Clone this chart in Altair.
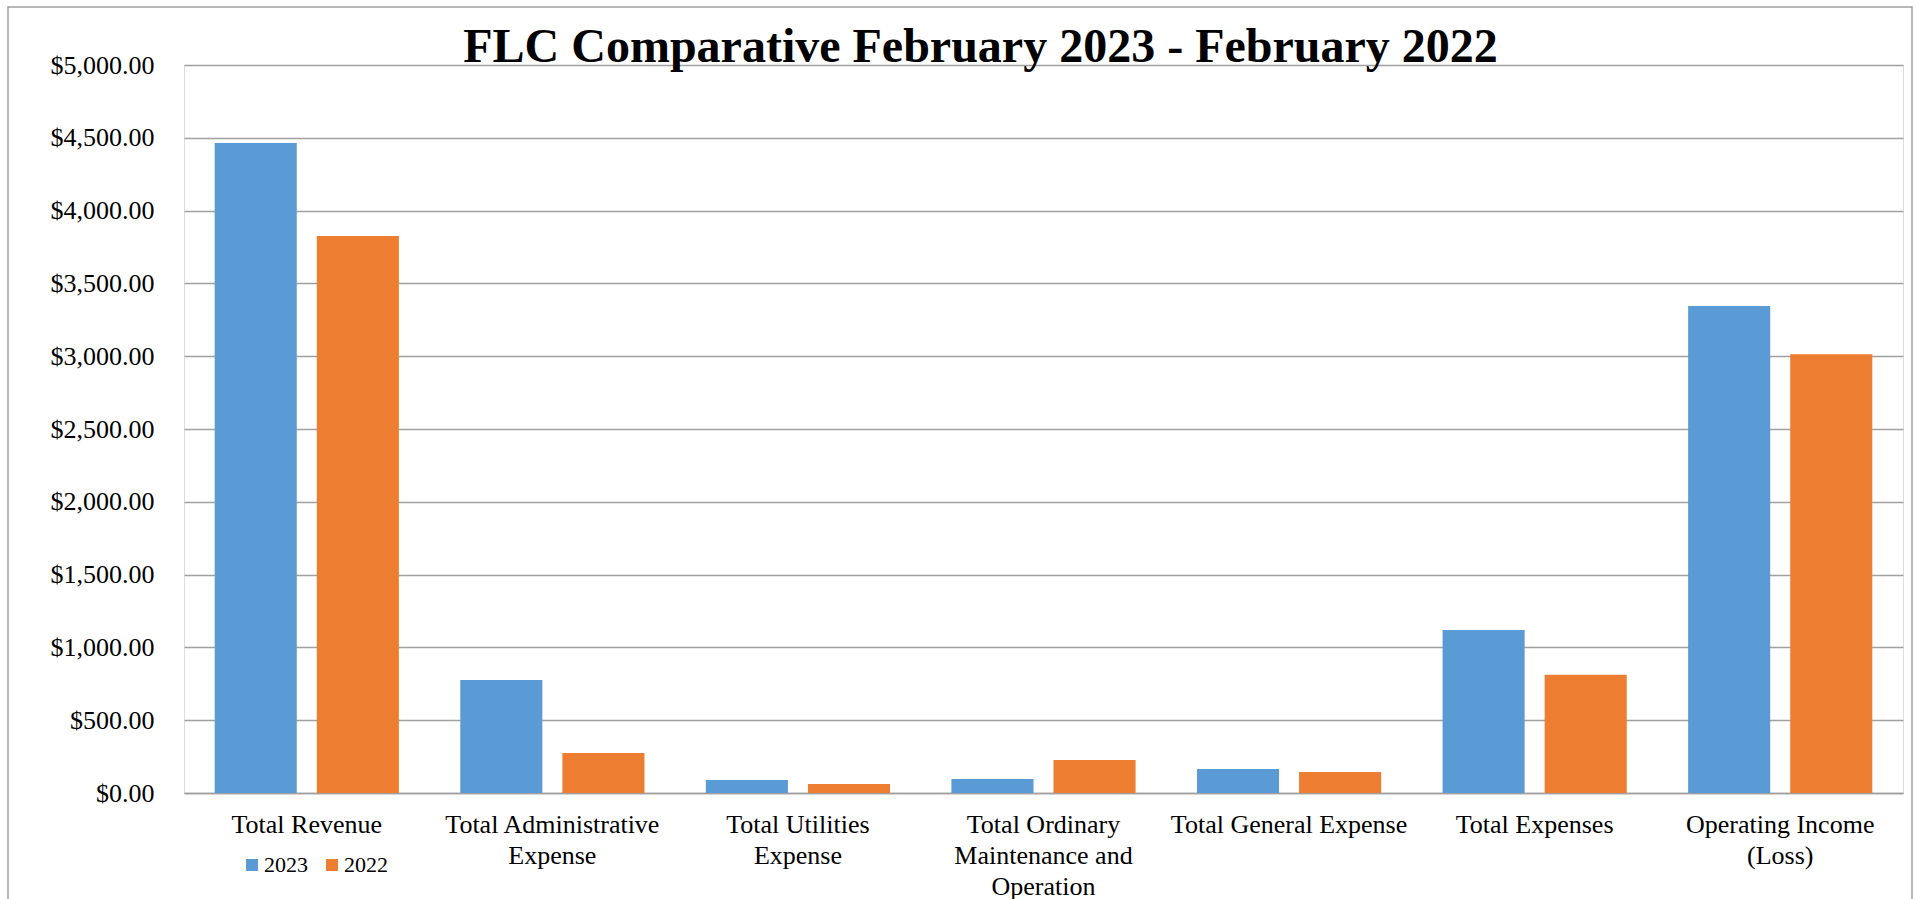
import altair as alt
import pandas as pd

title_text = "FLC Comparative February 2023 - February 2022"
categories = [
    "Total Revenue",
    "Total Administrative\nExpense",
    "Total Utilities\nExpense",
    "Total Ordinary\nMaintenance and\nOperation",
    "Total General Expense",
    "Total Expenses",
    "Operating Income\n(Loss)",
]
years = ["2023", "2022"]
values_2023 = [4464, 776, 89, 96, 165, 1119, 3345]
values_2022 = [3825, 275, 62, 227, 144, 812, 3013]
y_ticks = [0, 500, 1000, 1500, 2000, 2500, 3000, 3500, 4000, 4500, 5000]
colors = ["#5B9BD5", "#ED7D31"]

rows = []
for c, a, b in zip(categories, values_2023, values_2022):
    rows.append({"category": c, "year": "2023", "value": a})
    rows.append({"category": c, "year": "2022", "value": b})
df = pd.DataFrame(rows)

FONT = "Liberation Serif"
GRID = "#A0A0A0"

bars = alt.Chart(df).mark_bar().encode(
    x=alt.X(
        "category:N",
        sort=categories,
        scale=alt.Scale(paddingInner=0.25, paddingOuter=0.125),
        axis=alt.Axis(
            title=None,
            labelAngle=0,
            labelExpr="split(datum.label, '\\n')",
            labelFont=FONT,
            labelFontSize=26,
            labelColor="#000000",
            labelLineHeight=31,
            labelPadding=18,
            labelBaseline="top",
            labelLimit=0,
            ticks=False,
            domainColor=GRID,
            domainWidth=1.5,
            grid=False,
        ),
    ),
    xOffset=alt.XOffset("year:N", sort=years, scale=alt.Scale(domain=years, paddingInner=0.196, paddingOuter=0)),
    y=alt.Y(
        "value:Q",
        scale=alt.Scale(domain=[0, 5000], nice=False),
        axis=alt.Axis(
            title=None,
            values=y_ticks,
            format="$,.2f",
            labelFont=FONT,
            labelFontSize=26,
            labelColor="#000000",
            labelPadding=30,
            ticks=False,
            domain=False,
            gridColor=GRID,
            gridWidth=1.5,
        ),
    ),
    color=alt.Color(
        "year:N",
        sort=years,
        scale=alt.Scale(domain=years, range=colors),
        legend=alt.Legend(
            title=None,
            orient="none",
            legendX=57,
            legendY=789,
            direction="horizontal",
            symbolType="square",
            symbolSize=144,
            symbolStrokeWidth=0,
            labelFont=FONT,
            labelFontSize=22,
            labelColor="#000000",
            labelOffset=1,
            columnPadding=13,
        ),
    ),
)

one = pd.DataFrame({"t": [title_text]})

frame = alt.Chart(one).mark_rect(
    fill=None, stroke="#A0A0A0", strokeWidth=1.5
).encode(
    x=alt.value(-176), x2=alt.value(1728), y=alt.value(-58), y2=alt.value(900)
)

title = alt.Chart(one).mark_text(
    font=FONT, fontSize=48, fontWeight="bold", color="#000000",
    align="center", baseline="alphabetic",
).encode(
    text="t:N", x=alt.value(796.5), y=alt.value(-3)
)

chart = alt.layer(bars, frame, title).properties(
    width=1719,
    height=728,
    padding={"left": 184, "top": 65, "right": 13, "bottom": 106},
    autosize=alt.AutoSizeParams(type="none"),
).configure_view(stroke=None).configure(background="#FFFFFF")

chart.save("out.html", embed_options={"renderer": "svg", "actions": False})
